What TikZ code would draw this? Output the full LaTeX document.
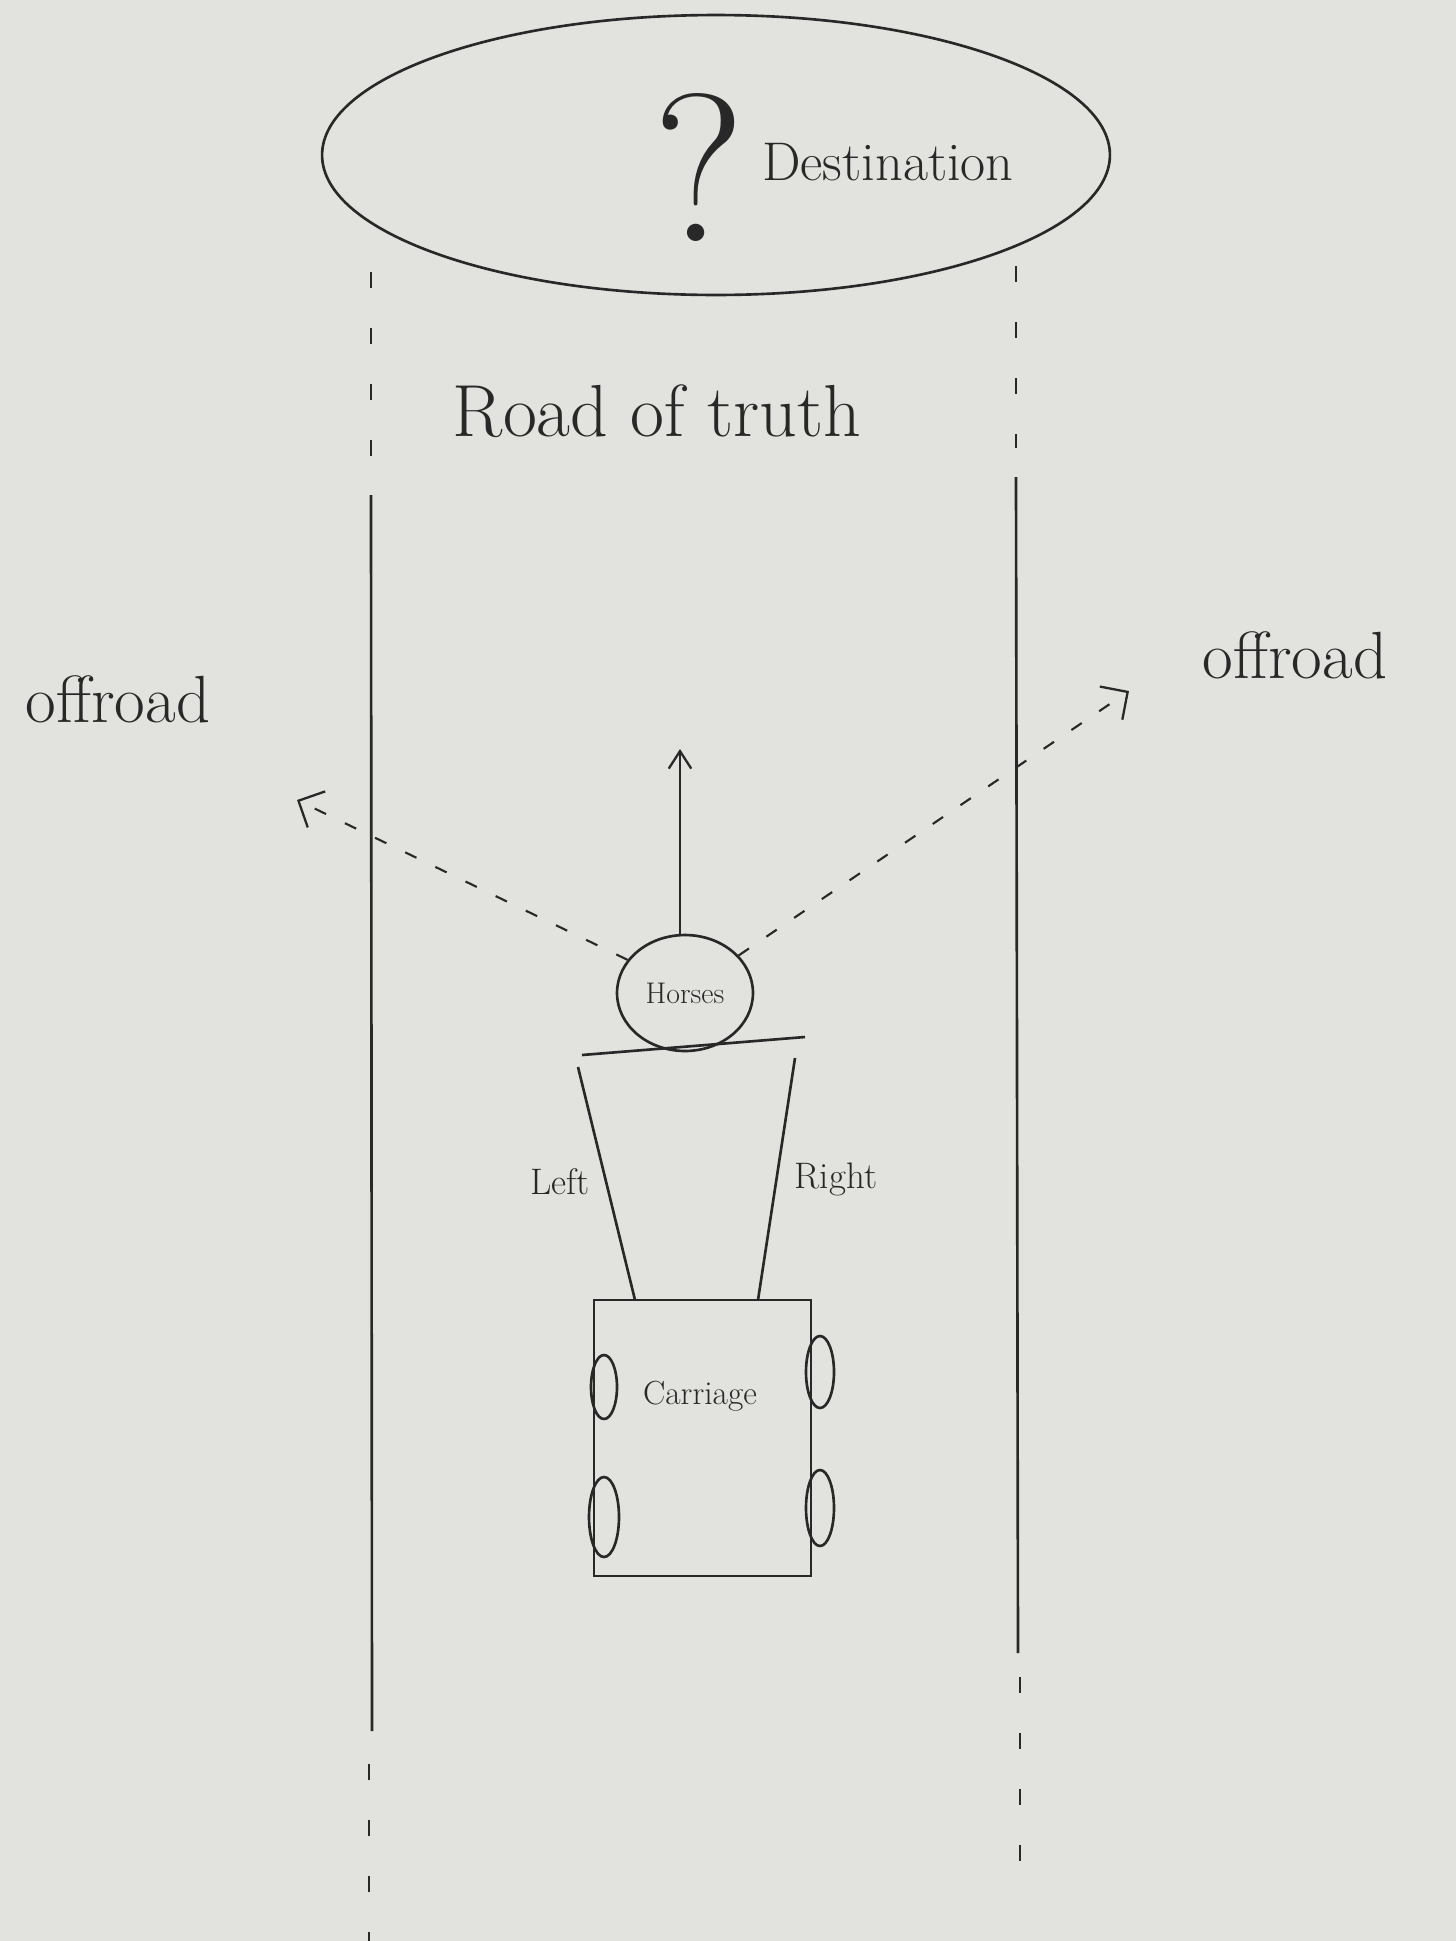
\documentclass[tikz,border=0pt]{standalone}
\usepackage{fontspec}
\usetikzlibrary{shapes.geometric,arrows.meta,calc}
\definecolor{paper}{RGB}{226,227,223}
\definecolor{ink}{RGB}{40,40,40}
\begin{document}
\begin{tikzpicture}[x=0.02cm,y=-0.02cm,
  pen/.style={draw=ink,line width=1.5pt},
  roaddash/.style={pen,dash pattern=on 0.32cm off 0.8cm},
  trail/.style={pen,line width=1.2pt,dash pattern=on 0.25cm off 0.42cm,-{Straight Barb[length=0.4cm,width=0.8cm,line width=1.3pt]}},
  uparrow/.style={pen,-{Straight Barb[length=0.35cm,width=0.45cm,line width=1.3pt]}},
  txt/.style={text=ink,inner sep=0pt}]
\fill[paper] (0,0) rectangle (1456,1941);
\useasboundingbox (0,0) rectangle (1456,1941);

% destination
\node[pen,ellipse,minimum width=15.76cm,minimum height=5.6cm] (dest) at (716,155) {};
\node[txt,font=\fontsize{120}{120}\selectfont] (qm) at (699,167) {?};
\node[txt,anchor=base,font=\fontsize{31}{36}\selectfont] (destlbl) at (888,180) {Destination};

% road edges
\draw[roaddash] (371,272) -- (371,466);
\draw[pen] (371,495) -- (372,1731);
\draw[roaddash] (369,1764) -- (369,1941);
\draw[roaddash] (1016,266) -- (1016,448);
\draw[pen] (1016,477) -- (1018,1653);
\draw[roaddash] (1020,1677) -- (1020,1870);

\node[txt,anchor=base,font=\fontsize{42}{50}\selectfont] (road) at (657,436) {Road of truth};
\node[txt,anchor=base,font=\fontsize{38}{44}\selectfont] (offl) at (118,722) {offroad};
\node[txt,anchor=base,font=\fontsize{38}{44}\selectfont] (offr) at (1295,678) {offroad};

% horses
\node[pen,ellipse,minimum width=2.72cm,minimum height=2.32cm,font=\fontsize{17}{20}\selectfont,text=ink] (horses) at (685,993) {Horses};
\coordinate (ahead) at (680,749);
\coordinate (goleft) at (297,800);
\coordinate (goright) at (1129,691);
\draw[uparrow] (horses.north -| ahead) -- (ahead);
\draw[trail] (horses.150) -- (goleft);
\draw[trail] (horses.35) -- (goright);

% yoke and shafts
\coordinate (barl) at (582,1055);
\coordinate (barr) at (805,1037);
\draw[pen] (barl) -- (barr);
\node[pen,rectangle,minimum width=4.34cm,minimum height=5.52cm] (carriage) at (702.5,1438) {};
\coordinate (sl) at (578,1067);
\coordinate (sr) at (795,1058);
\coordinate (cl) at (635,1300);
\coordinate (cr) at (758,1300);
\draw[pen] (sl) -- (cl);
\draw[pen] (sr) -- (cr);
\node[txt,font=\fontsize{21}{24}\selectfont] (leftlbl) at (560,1182) {Left};
\node[txt,font=\fontsize{21}{24}\selectfont] (rightlbl) at (836,1179) {Right};
\node[txt,font=\fontsize{19}{22}\selectfont] (carlbl) at (700,1396) {Carriage};

% wheels
\node[pen,ellipse,minimum width=0.52cm,minimum height=1.28cm] (w1) at (604,1387) {};
\node[pen,ellipse,minimum width=0.6cm,minimum height=1.6cm] (w2) at (604,1517) {};
\node[pen,ellipse,minimum width=0.56cm,minimum height=1.44cm] (w3) at (820,1372) {};
\node[pen,ellipse,minimum width=0.56cm,minimum height=1.52cm] (w4) at (820,1508) {};
\end{tikzpicture}
\end{document}
